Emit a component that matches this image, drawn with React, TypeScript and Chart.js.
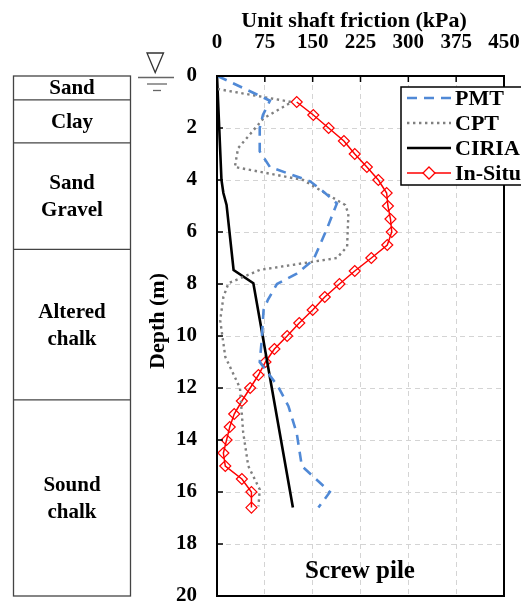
import React, { useEffect, useRef } from 'react';
import { Chart, registerables } from 'chart.js';

Chart.register(...registerables);

// ---- Data ----
const X_TICKS = [0, 75, 150, 225, 300, 375, 450];
const DEPTH_TICKS = [0, 2, 4, 6, 8, 10, 12, 14, 16, 18, 20];

const INSITU_DEPTH = [1.0, 1.5, 2.0, 2.5, 3.0, 3.5, 4.0, 4.5, 5.0, 5.5, 6.0, 6.5, 7.0, 7.5, 8.0, 8.5, 9.0, 9.5, 10.0, 10.5, 11.0, 11.5, 12.0, 12.5, 13.0, 13.5, 14.0, 14.5, 15.0, 15.5, 16.0, 16.6];
const INSITU_KPA = [125, 151, 175, 199, 216, 235, 253, 266, 268, 272, 274, 267, 242, 216, 192, 169, 150, 129, 110, 90, 76, 65, 52, 39, 27, 20, 15, 10, 13, 39, 54, 54];

const PMT_DEPTH = [0, 0.95, 1.5, 2.0, 2.9, 3.5, 4.05, 4.45, 4.9, 5.9, 7.08, 7.6, 8.0, 8.6, 9.0, 10.2, 11.0, 11.95, 12.7, 13.74, 15.0, 16.0, 16.6];
const PMT_KPA = [1, 83, 72, 67, 67, 83, 146, 167, 188, 172, 151, 125, 94, 80, 73, 70, 67, 96, 112, 125, 133, 177, 159];

const CPT_DEPTH = [0.5, 1.0, 1.63, 2.78, 3.5, 4.0, 4.96, 5.3, 6.56, 7.0, 7.46, 7.97, 8.5, 9.4, 10.8, 12.0, 13.7, 15.0, 15.9, 16.55];
const CPT_KPA = [1, 117, 73, 33, 28, 135, 201, 206, 204, 188, 67, 18, 10, 5, 13, 36, 41, 49, 67, 65];

const CIRIA_DEPTH = [0, 4.0, 4.5, 4.96, 7.46, 7.97, 16.6];
const CIRIA_KPA = [0, 7, 10, 15, 26, 57, 119];

const SOIL_NAMES = [['Sand'], ['Clay'], ['Sand', 'Gravel'], ['Altered', 'chalk'], ['Sound', 'chalk']];
const SOIL_TOP = [0, 0.92, 2.57, 6.67, 12.46];
const SOIL_BOTTOM = [0.92, 2.57, 6.67, 12.46, 20];

const SERIES_NAMES = ['PMT', 'CPT', 'CIRIA', 'In-Situ'];

const FONT = 'Liberation Serif';
const toPts = (xs: number[], ys: number[]) => xs.map((x, i) => ({ x, y: ys[i] }));

const overlay = {
  id: 'overlay',
  afterDraw(chart: any) {
    const { ctx, chartArea: ca, scales } = chart;
    const xs = scales.x;
    const ys = scales.y;
    const line = (x1: number, y1: number, x2: number, y2: number) => {
      ctx.beginPath();
      ctx.moveTo(x1, y1);
      ctx.lineTo(x2, y2);
      ctx.stroke();
    };
    ctx.save();
    ctx.setLineDash([]);

    // frame
    ctx.strokeStyle = '#000';
    ctx.lineWidth = 2;
    ctx.strokeRect(ca.left, ca.top, ca.right - ca.left, ca.bottom - ca.top);
    // inward ticks
    ctx.lineWidth = 1.5;
    ys.ticks.forEach((t: any) => {
      const y = ys.getPixelForValue(t.value);
      line(ca.left, y, ca.left + 6, y);
    });
    xs.ticks.forEach((t: any) => {
      const x = xs.getPixelForValue(t.value);
      line(x, ca.top, x, ca.top + 6);
    });

    // axis titles
    ctx.fillStyle = '#000';
    ctx.font = `bold 22px "${FONT}"`;
    ctx.textAlign = 'center';
    ctx.textBaseline = 'middle';
    ctx.fillText('Unit shaft friction (kPa)', 354, 21);
    ctx.save();
    ctx.translate(158, 321);
    ctx.rotate(-Math.PI / 2);
    ctx.fillText('Depth (m)', 0, 0);
    ctx.restore();

    // soil column
    const colL = 13.5;
    const colR = 130.5;
    ctx.strokeStyle = '#444';
    ctx.lineWidth = 1.3;
    const yTop = ys.getPixelForValue(0);
    const yBot = ys.getPixelForValue(20);
    ctx.strokeRect(colL, yTop, colR - colL, yBot - yTop);
    ctx.font = `bold 21px "${FONT}"`;
    SOIL_NAMES.forEach((names, i) => {
      if (i > 0) {
        const yb = ys.getPixelForValue(SOIL_TOP[i]);
        line(colL, yb, colR, yb);
      }
      const yc = (ys.getPixelForValue(SOIL_TOP[i]) + ys.getPixelForValue(SOIL_BOTTOM[i])) / 2;
      const lh = 27;
      names.forEach((n, j) => {
        ctx.fillText(n, (colL + colR) / 2, yc + (j - (names.length - 1) / 2) * lh + 1);
      });
    });

    // water table symbol
    const wy = ys.getPixelForValue(0);
    ctx.strokeStyle = '#333';
    ctx.lineWidth = 1.3;
    ctx.beginPath();
    ctx.moveTo(147, wy - 23);
    ctx.lineTo(163.5, wy - 23);
    ctx.lineTo(155.2, wy - 3.5);
    ctx.closePath();
    ctx.stroke();
    ctx.strokeStyle = '#666';
    line(138, wy + 1.5, 174, wy + 1.5);
    line(147, wy + 8, 167, wy + 8);
    line(153, wy + 14.5, 161, wy + 14.5);

    // "Screw pile"
    ctx.fillStyle = '#000';
    ctx.font = `bold 25px "${FONT}"`;
    ctx.textAlign = 'center';
    ctx.fillText('Screw pile', 360, 572);

    // legend
    const lx = 401;
    const lt = 87;
    const lb = 185;
    ctx.fillStyle = '#fff';
    ctx.fillRect(lx, lt, 140, lb - lt);
    ctx.strokeStyle = '#000';
    ctx.lineWidth = 1.5;
    ctx.strokeRect(lx, lt, 140, lb - lt);
    const ds = chart.data.datasets;
    const rows = [98, 123, 148, 173];
    ctx.font = `bold 22px "${FONT}"`;
    ctx.textAlign = 'left';
    ctx.textBaseline = 'middle';
    ds.forEach((d: any, i: number) => {
      const y = rows[i];
      ctx.strokeStyle = d.borderColor;
      ctx.lineWidth = d.borderWidth;
      ctx.setLineDash(d.borderDash || []);
      line(407, y, 451, y);
      ctx.setLineDash([]);
      if (d.pointRadius > 0) {
        ctx.lineWidth = 1.3;
        ctx.fillStyle = '#fff';
        ctx.beginPath();
        ctx.moveTo(429, y - 6);
        ctx.lineTo(435, y);
        ctx.lineTo(429, y + 6);
        ctx.lineTo(423, y);
        ctx.closePath();
        ctx.fill();
        ctx.stroke();
      }
      ctx.fillStyle = '#000';
      ctx.fillText(SERIES_NAMES[i], 455, y + 1);
    });

    ctx.restore();
  },
};

export default function App() {
  const ref = useRef<HTMLCanvasElement | null>(null);
  useEffect(() => {
    if (!ref.current) return;
    const tickFont = { family: FONT, weight: 'bold' as const, size: 21 };
    const chart = new Chart(ref.current, {
      type: 'scatter',
      data: {
        datasets: [
          {
            label: SERIES_NAMES[0],
            data: toPts(PMT_KPA, PMT_DEPTH),
            showLine: true,
            borderColor: '#5089d6',
            borderWidth: 2.6,
            borderDash: [10, 7],
            pointRadius: 0,
            tension: 0,
          },
          {
            label: SERIES_NAMES[1],
            data: toPts(CPT_KPA, CPT_DEPTH),
            showLine: true,
            borderColor: '#808080',
            borderWidth: 2.4,
            borderDash: [2.4, 3.6],
            pointRadius: 0,
            tension: 0,
          },
          {
            label: SERIES_NAMES[2],
            data: toPts(CIRIA_KPA, CIRIA_DEPTH),
            showLine: true,
            borderColor: '#000000',
            borderWidth: 2.6,
            pointRadius: 0,
            tension: 0,
          },
          {
            label: SERIES_NAMES[3],
            data: toPts(INSITU_KPA, INSITU_DEPTH),
            showLine: true,
            borderColor: '#ff0000',
            borderWidth: 1.5,
            pointStyle: 'rectRot',
            pointRadius: 5.5,
            pointBorderWidth: 1.2,
            pointBorderColor: '#ff0000',
            pointBackgroundColor: 'rgba(255,255,255,0)',
            tension: 0,
          },
        ],
      },
      options: {
        responsive: false,
        animation: false,
        layout: { padding: { left: 0, right: 17, top: 0, bottom: 10 } },
        plugins: { legend: { display: false }, tooltip: { enabled: false } },
        scales: {
          x: {
            type: 'linear',
            position: 'top',
            min: 0,
            max: 450,
            afterBuildTicks: (s: any) => {
              s.ticks = X_TICKS.map((v) => ({ value: v }));
            },
            afterFit: (s: any) => {
              s.height = 76;
              s.paddingLeft = 0;
              s.paddingRight = 0;
              s.paddingTop = 0;
              s.paddingBottom = 0;
            },
            ticks: { color: '#000', font: tickFont, padding: 21, maxRotation: 0 },
            grid: { color: '#d4d4d4', lineWidth: 1, drawTicks: false },
            border: { display: false, dash: [5, 4] },
          },
          y: {
            type: 'linear',
            reverse: true,
            min: 0,
            max: 20,
            afterBuildTicks: (s: any) => {
              s.ticks = DEPTH_TICKS.map((v) => ({ value: v }));
            },
            afterFit: (s: any) => {
              s.width = 217;
              s.paddingLeft = 0;
              s.paddingRight = 0;
              s.paddingTop = 0;
              s.paddingBottom = 0;
            },
            ticks: { color: '#000', font: tickFont, padding: 20 },
            grid: { color: '#d4d4d4', lineWidth: 1, drawTicks: false },
            border: { display: false, dash: [5, 4] },
          },
        },
      },
      plugins: [overlay],
    });
    return () => chart.destroy();
  }, []);
  return (
    <div style={{ position: 'fixed', left: 0, top: 0, width: 521, height: 606, background: '#fff' }}>
      <canvas ref={ref} width={521} height={606} style={{ display: 'block' }} />
    </div>
  );
}
